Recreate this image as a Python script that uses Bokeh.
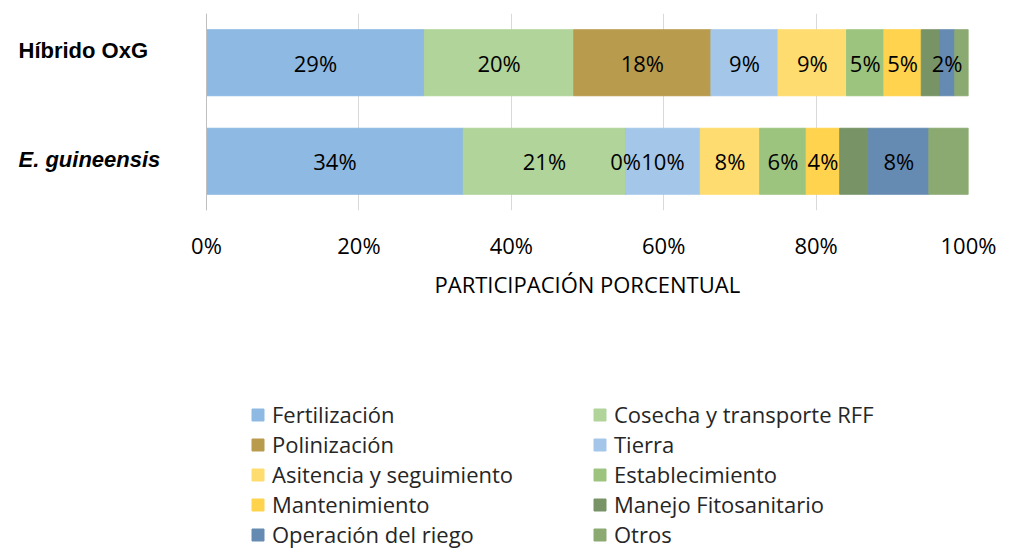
import numpy as np
from bokeh.plotting import figure
from bokeh.layouts import column
from bokeh.models import (ColumnDataSource, Range1d, FixedTicker, Legend, LegendItem,
                          Span, Title)
from bokeh.core.properties import value
from bokeh.embed import file_html
from bokeh.resources import INLINE

# ---------------- data ----------------
categories = ["Híbrido OxG", "E. guineensis"]
category_styles = ["bold", "bold italic"]
series = ["Fertilización", "Cosecha y transporte RFF", "Polinización", "Tierra",
          "Asitencia y seguimiento", "Establecimiento", "Mantenimiento",
          "Manejo Fitosanitario", "Operación del riego", "Otros"]
hibrido = [28.6, 19.6, 18.0, 8.8, 9.0, 4.9, 4.9, 2.4, 2.0, 1.8]
guineensis = [33.7, 21.3, 0.0, 9.8, 7.8, 6.1, 4.4, 3.8, 7.9, 5.2]
labelled = [True, True, True, True, True, True, True, False, True, False]
colors = ["#8DB9E2", "#B0D49A", "#B89B4C", "#A4C7E9", "#FEDC6F",
          "#9CC47F", "#FFD34D", "#789467", "#668BB2", "#8BAA72"]
ticks = [0, 20, 40, 60, 80, 100]
tick_labels = ["0%", "20%", "40%", "60%", "80%", "100%"]
axis_title = "PARTICIPACIÓN PORCENTUAL"

values_by_cat = [hibrido, guineensis]
n = len(categories)
ypos = [n - i - 0.5 for i in range(n)]

FONT = "Open Sans"
W = 1010
H_MAIN, H_LEG = 330, 220
FRAME_RIGHT = 968          # px position of 100 %
PLOT_LEFT = 206            # px position of 0 %
px_per_unit = (FRAME_RIGHT - PLOT_LEFT) / 100.0
x_start = -PLOT_LEFT / px_per_unit   # frame begins at the canvas left edge

p = figure(width=W, height=H_MAIN, output_backend="svg", toolbar_location=None,
           x_range=Range1d(x_start, 100), y_range=Range1d(0, n),
           min_border_left=0, min_border_right=W - FRAME_RIGHT, min_border_top=13,
           min_border_bottom=120)
p.outline_line_color = None
p.yaxis.visible = False

data = {"y": ypos}
keys = []
for k, s in enumerate(series):
    key = f"s{k}"
    keys.append(key)
    data[key] = [vals[k] for vals in values_by_cat]
src = ColumnDataSource(data)
rs = p.hbar_stack(keys, y="y", height=0.67, color=colors, source=src)

# data labels
lx, ly, lt = [], [], []
for vals, y in zip(values_by_cat, ypos):
    cum = np.cumsum(vals)
    for k, v in enumerate(vals):
        if labelled[k]:
            lx.append(cum[k] - v / 2)
            ly.append(y)
            lt.append(f"{int(round(v))}%")
p.text(x="x", y="y", text="t", source=ColumnDataSource(dict(x=lx, y=ly, t=lt)),
       text_align="center", text_baseline="middle", text_font=value(FONT),
       text_font_size="22px", text_color="#000000")

# category labels (left of the value axis)
cat_src = ColumnDataSource(dict(x=[x_start + 18 / px_per_unit] * n, y=ypos,
                                t=categories, st=category_styles,
                                dy=[-12, -2]))
p.text(x="x", y="y", text="t", y_offset="dy", source=cat_src,
       text_font=value("Liberation Sans"), text_font_style="st",
       text_font_size="22px", text_baseline="middle", text_align="left",
       text_color="#000000")

# value axis
p.xaxis.ticker = FixedTicker(ticks=ticks)
p.xaxis.major_label_overrides = {t: l for t, l in zip(ticks, tick_labels)}
p.xaxis.axis_line_color = None
p.xaxis.major_tick_line_color = None
p.xaxis.major_tick_out = 0
p.xaxis.major_tick_in = 0
p.xaxis.minor_tick_line_color = None
p.xaxis.minor_tick_out = 0
p.xaxis.major_label_text_font = FONT
p.xaxis.major_label_text_font_size = "22px"
p.xaxis.major_label_text_color = "#000000"
p.xaxis.major_label_standoff = 19

p.xgrid.grid_line_color = "#D9D9D9"
p.ygrid.grid_line_color = None
p.add_layout(Span(location=0, dimension="height", line_color="#BFBFBF", line_width=1))

# axis title centred under the value axis
p.add_layout(Title(text=axis_title, align="left", offset=434, text_font=FONT,
                   text_font_size="22px", text_font_style="normal",
                   text_color="#000000", standoff=8), "below")

# ---------------- legend (own figure below) ----------------
pl = figure(width=W, height=H_LEG, output_backend="svg", toolbar_location=None,
            x_range=Range1d(0, 1), y_range=Range1d(0, 1),
            min_border_left=0, min_border_right=0, min_border_top=0,
            min_border_bottom=0)
pl.outline_line_color = None
pl.axis.visible = False
pl.grid.visible = False
lrs = pl.hbar_stack(keys, y="y", height=0.67, color=colors, source=src)
for r in lrs:
    r.visible = False

for col, xloc in enumerate([250, 592]):
    items = [LegendItem(label=series[k], renderers=[lrs[k]])
             for k in range(col, len(series), 2)]
    leg = Legend(items=items, location=(xloc, 1), orientation="vertical",
                 border_line_color=None, background_fill_alpha=0,
                 padding=0, margin=0, spacing=0, glyph_width=15, glyph_height=15,
                 label_standoff=7, label_height=30,
                 label_text_font=FONT, label_text_font_size="22px",
                 label_text_color="#262626")
    pl.add_layout(leg, "center")

layout = column(p, pl, spacing=0)
open("out.html", "w").write(file_html(layout, INLINE))
